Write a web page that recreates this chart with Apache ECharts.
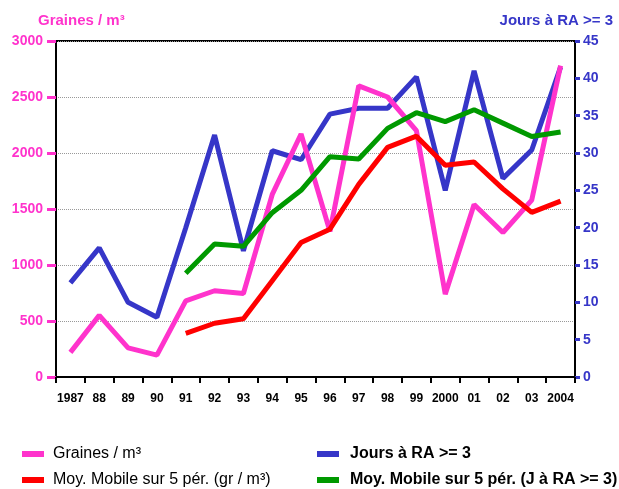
<!DOCTYPE html>
<html>
<head>
<meta charset="utf-8">
<script src="https://cdn.jsdelivr.net/npm/echarts@6/dist/echarts.min.js"></script>
<style>
  body{margin:0;background:#fff}
  #main{width:619px;height:489px}
</style>
</head>
<body>
<div id="main"></div>
<script>
  // années
  var years = ['1987','88','89','90','91','92','93','94','95','96','97','98','99','2000','01','02','03','2004']
  // graines / m3 (axe gauche)
  var graines = [220,550,260,195,680,770,745,1630,2170,1300,2600,2500,2200,740,1540,1290,1580,2780]
  var moyGraines = [null,null,null,null,390,480,520,860,1200,1320,1720,2050,2150,1890,1920,1680,1470,1570]
  // jours à RA >= 3 (axe droit)
  var jours = [12.6,17.3,10.0,8.0,20.0,32.4,16.9,30.3,29.1,35.2,36.0,36.0,40.2,25.0,41.0,26.6,30.4,41.5]
  var moyJours = [null,null,null,null,13.9,17.8,17.5,22.0,25.0,29.5,29.2,33.3,35.4,34.2,35.8,34.0,32.2,32.8]

  var pink = '#ff33cc', blue = '#3636c8', red = '#ff0000', green = '#009900'
  var font = 'Liberation Sans, Arial, sans-serif'

  var myChart = echarts.init(document.getElementById('main'))

  // une légende par entrée, pour les placer comme sur l'original
  function leg(name, left, top, bold, gap) {
    return {
      left: left, top: top, padding: 0, itemWidth: 22, itemHeight: 6, itemGap: 0, icon: 'rect',
      textStyle: {fontSize: 16, color: '#000', fontWeight: bold ? 'bold' : 'normal', fontFamily: font, padding: [0, 0, 0, gap]},
      data: [name]
    }
  }

  myChart.setOption({
    animation: false,
    textStyle: {fontFamily: font},
    title: [
      {text: 'Graines / m³', left: 33, top: 8, textStyle: {color: pink, fontSize: 15, fontWeight: 'bold', fontFamily: font}},
      {text: 'Jours à RA >= 3', right: 1, top: 8, textStyle: {color: blue, fontSize: 15, fontWeight: 'bold', fontFamily: font}}
    ],
    grid: {left: 56, right: 44, top: 41, bottom: 112, show: true, borderColor: '#000', borderWidth: 2},
    legend: [
      leg('Graines / m³', 22, 446, false, 4),
      leg('Moy. Mobile sur 5 pér. (gr / m³)', 22, 472, false, 4),
      leg('Jours à RA >= 3', 317, 446, true, 6),
      leg('Moy. Mobile sur 5 pér. (J à RA >= 3)', 317, 472, true, 6)
    ],
    xAxis: {
      type: 'category',
      data: years,
      boundaryGap: true,
      axisLine: {lineStyle: {color: '#000', width: 2}},
      axisTick: {show: true, interval: 0, length: 6, lineStyle: {color: '#000', width: 2}},
      axisLabel: {interval: 0, color: '#000', fontWeight: 'bold', fontSize: 12, margin: 16}
    },
    yAxis: [
      {
        type: 'value', min: 0, max: 3000, interval: 500,
        axisLine: {show: true, lineStyle: {color: '#000', width: 2}},
        axisTick: {show: true, length: 9, lineStyle: {color: pink, width: 3}},
        axisLabel: {color: pink, fontWeight: 'bold', fontSize: 14, margin: 13, formatter: function (v) { return String(v) }},
        splitLine: {show: true, lineStyle: {color: '#999', type: 'dotted', width: 1}}
      },
      {
        type: 'value', min: 0, max: 45, interval: 5,
        axisLine: {show: true, lineStyle: {color: '#000', width: 2}},
        axisTick: {show: true, length: 5, lineStyle: {color: blue, width: 3}},
        axisLabel: {color: blue, fontWeight: 'bold', fontSize: 14, margin: 8},
        splitLine: {show: false}
      }
    ],
    series: [
      {name: 'Graines / m³', type: 'line', yAxisIndex: 0, data: graines, showSymbol: false,
        itemStyle: {color: pink}, lineStyle: {color: pink, width: 5}, z: 3},
      {name: 'Jours à RA >= 3', type: 'line', yAxisIndex: 1, data: jours, showSymbol: false,
        itemStyle: {color: blue}, lineStyle: {color: blue, width: 5}, z: 2},
      {name: 'Moy. Mobile sur 5 pér. (gr / m³)', type: 'line', yAxisIndex: 0, data: moyGraines, showSymbol: false,
        itemStyle: {color: red}, lineStyle: {color: red, width: 5}, z: 4},
      {name: 'Moy. Mobile sur 5 pér. (J à RA >= 3)', type: 'line', yAxisIndex: 1, data: moyJours, showSymbol: false,
        itemStyle: {color: green}, lineStyle: {color: green, width: 5}, z: 5}
    ]
  })
</script>
</body>
</html>
